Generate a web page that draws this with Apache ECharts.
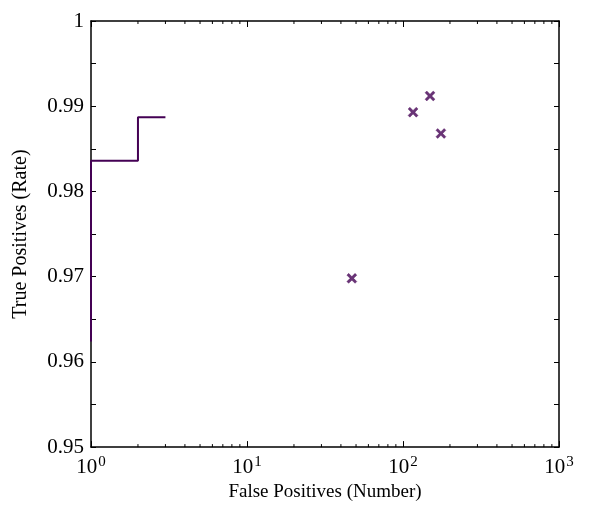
<!DOCTYPE html>
<html>
<head>
<meta charset="utf-8">
<script src="https://cdn.jsdelivr.net/npm/echarts@6/dist/echarts.min.js"></script>
<style>html,body{margin:0;padding:0;background:#fff;}#c{width:590px;height:507px;}</style>
</head>
<body>
<div id="c"></div>
<script>
// ROC step curve (false positives, true positive rate)
const curveFP = [1, 1, 2, 2, 3];
const curveTP = [0.9624, 0.9836, 0.9836, 0.9887, 0.9887];
// Individual operating points
const pointFP = [47, 116, 149, 175];
const pointTP = [0.9698, 0.9893, 0.9912, 0.9868];
// Axis ticks
const xMinorTicks = [2,3,4,5,6,7,8,9,20,30,40,50,60,70,80,90,200,300,400,500,600,700,800,900];
const yTickLabels = {'1000':'1','990':'0.99','980':'0.98','970':'0.97','960':'0.96','950':'0.95'};

const FONT = '"Liberation Serif", "DejaVu Serif", serif';
const COLOR = '#440154';
const chart = echarts.init(document.getElementById('c'));

const xLabel = v => {
  const e = Math.round(Math.log10(v));
  return '{b|10}{s|' + e + '}';
};
const yLabel = v => {
  const k = String(Math.round(v * 1000));
  return yTickLabels[k] !== undefined ? yTickLabels[k] : '';
};

chart.setOption({
  animation: false,
  backgroundColor: '#fff',
  grid: {left: 91, right: 31, top: 21, bottom: 55, containLabel: false},
  xAxis: [{
    type: 'log', logBase: 10, min: 1, max: 1000,
    name: 'False Positives (Number)', nameLocation: 'middle', nameGap: 33,
    nameTextStyle: {fontFamily: FONT, fontSize: 19, color: '#000'},
    axisLine: {lineStyle: {color: '#000', width: 1.5}},
    axisTick: {inside: true, length: 6, lineStyle: {color: '#000', width: 1}},
    splitLine: {show: false},
    axisLabel: {
      formatter: xLabel, margin: 7, color: '#000',
      rich: {
        b: {fontFamily: FONT, fontSize: 21, color: '#000', verticalAlign: 'bottom'},
        s: {fontFamily: FONT, fontSize: 15, color: '#000', verticalAlign: 'bottom', padding: [0, 0, 9, 1]}
      }
    }
  }, {
    type: 'log', logBase: 10, min: 1, max: 1000, position: 'top',
    axisLine: {lineStyle: {color: '#000', width: 1.5}},
    axisTick: {inside: true, length: 6, lineStyle: {color: '#000', width: 1}},
    axisLabel: {show: false}, splitLine: {show: false}
  }],
  yAxis: [{
    type: 'value', min: 0.95, max: 1, interval: 0.005,
    name: 'True Positives (Rate)', nameLocation: 'middle', nameGap: 60,
    nameTextStyle: {fontFamily: FONT, fontSize: 20, color: '#000'},
    axisLine: {show: true, lineStyle: {color: '#000', width: 1.5}},
    axisTick: {show: true, inside: true, length: 5, lineStyle: {color: '#000', width: 1}},
    splitLine: {show: false},
    axisLabel: {formatter: yLabel, fontFamily: FONT, fontSize: 21, color: '#000', margin: 7}
  }, {
    type: 'value', min: 0.95, max: 1, interval: 0.005, position: 'right',
    axisLine: {show: true, lineStyle: {color: '#000', width: 1.5}},
    axisTick: {show: true, inside: true, length: 5, lineStyle: {color: '#000', width: 1}},
    axisLabel: {show: false}, splitLine: {show: false}
  }],
  series: [{
    type: 'line',
    data: curveFP.map((x, i) => [x, curveTP[i]]),
    showSymbol: false, symbol: 'none',
    lineStyle: {color: COLOR, width: 2},
    clip: false, z: 3
  }, {
    type: 'scatter',
    data: pointFP.map((x, i) => [x, pointTP[i]]),
    symbol: 'path://M0,1.8L1.8,0L5,3.2L8.2,0L10,1.8L6.8,5L10,8.2L8.2,10L5,6.8L1.8,10L0,8.2L3.2,5Z',
    symbolSize: 10,
    itemStyle: {color: COLOR, borderColor: COLOR, borderWidth: 0.4}, z: 4
  }, {
    type: 'custom',
    data: xMinorTicks.map(v => [v, 0.95]),
    clip: false, silent: true, z: 5,
    renderItem: (params, api) => {
      const v = api.value(0);
      const b = api.coord([v, 0.95]);
      const t = api.coord([v, 1]);
      return {type: 'group', children: [
        {type: 'line', shape: {x1: b[0], y1: b[1], x2: b[0], y2: b[1] - 3}, style: {stroke: '#000', lineWidth: 1}},
        {type: 'line', shape: {x1: t[0], y1: t[1], x2: t[0], y2: t[1] + 3}, style: {stroke: '#000', lineWidth: 1}}
      ]};
    }
  }]
});
</script>
</body>
</html>
